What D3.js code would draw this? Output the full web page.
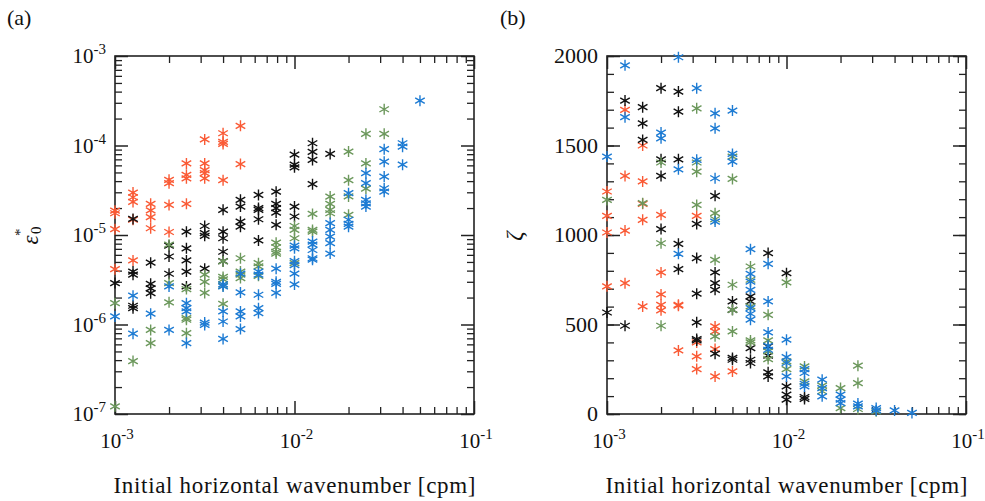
<!DOCTYPE html>
<html>
<head>
<meta charset="utf-8">
<script src="https://cdn.jsdelivr.net/npm/d3@7"></script>
<style>
  body { margin: 0; background: #fff; }
  svg text { font-family: "Liberation Serif", "DejaVu Serif", serif; fill: #111; }
</style>
</head>
<body>
<svg id="chart" width="985" height="501"></svg>
<script>
// Initial horizontal wavenumber [cpm], one column of points per value
const wavenumbers = [0.001, 0.00126, 0.00158, 0.002, 0.0025, 0.00316, 0.004, 0.005, 0.0063,
                     0.0079, 0.01, 0.0126, 0.0158, 0.02, 0.025, 0.0316, 0.04, 0.05];

// panel (a): epsilon_0^* — one sub-array per wavenumber
const epsRed = [
  [1.87e-5, 1.75e-5, 1.16e-5, 4.15e-6],
  [2.98e-5, 2.64e-5, 2.34e-5, 1.48e-5, 5.2e-6],
  [2.23e-5, 1.88e-5, 1.58e-5, 1.19e-5],
  [4.13e-5, 3.79e-5, 2.17e-5, 1.08e-5],
  [6.3e-5, 4.7e-5, 4.3e-5, 2.23e-5],
  [1.17e-4, 6.3e-5, 5.3e-5, 4.9e-5, 4.3e-5],
  [1.37e-4, 1.1e-4, 1.04e-4, 4.1e-5],
  [1.66e-4, 6.2e-5]
];
const epsBlack = [
  [2.9e-6],
  [1.51e-5, 3.9e-6, 3.6e-6, 1.62e-6, 1.52e-6],
  [4.9e-6, 2.85e-6, 2.53e-6, 2.24e-6],
  [7.6e-6, 5.75e-6, 3.69e-6],
  [1.09e-5, 7.1e-6, 5.2e-6, 3.9e-6, 2.66e-6],
  [1.26e-5, 1.05e-5, 9.8e-6, 4.2e-6],
  [1.91e-5, 1.09e-5, 9.2e-6, 6.5e-6, 5.1e-6],
  [2.47e-5, 2.08e-5, 1.41e-5, 1.24e-5],
  [2.8e-5, 2.0e-5, 1.91e-5, 1.5e-5, 8.7e-6],
  [3.05e-5, 2.23e-5, 2.0e-5, 1.78e-5, 1.3e-5],
  [7.9e-5, 6.1e-5, 5.7e-5, 2.08e-5, 1.61e-5],
  [1.06e-4, 8.5e-5, 6.9e-5, 3.7e-5],
  [8.05e-5]
];
const epsGreen = [
  [1.73e-6, 1.22e-7],
  [3.9e-7],
  [8.7e-7, 6.2e-7],
  [7.8e-6, 2.9e-6, 1.77e-6],
  [2.49e-6, 1.18e-6, 1.13e-6, 8.0e-7],
  [3.6e-6, 3.0e-6, 2.25e-6],
  [5.06e-6, 3.4e-6, 3.2e-6, 2.7e-6, 1.7e-6],
  [5.5e-6, 3.9e-6, 3.6e-6, 3.3e-6],
  [4.85e-6, 4.45e-6, 3.5e-6],
  [8.2e-6, 7.3e-6, 6.5e-6, 6.2e-6],
  [1.26e-5, 1.14e-5, 9.2e-6, 4.85e-6],
  [1.72e-5, 1.14e-5, 1.09e-5],
  [2.69e-5, 2.23e-5, 1.91e-5, 1.75e-5],
  [8.55e-5, 4.1e-5, 2.7e-5, 1.68e-5],
  [1.35e-4, 6.3e-5, 3.3e-5],
  [2.54e-4, 1.35e-4]
];
const epsBlue = [
  [1.23e-6],
  [2.1e-6, 7.9e-7],
  [1.32e-6],
  [2.66e-6, 8.7e-7],
  [1.73e-6, 1.52e-6, 1.4e-6, 6.2e-7],
  [1.05e-6, 9.9e-7],
  [2.8e-6, 2.66e-6, 1.4e-6, 1.08e-6, 6.9e-7],
  [3.7e-6, 2.28e-6, 1.4e-6, 1.23e-6, 8.9e-7],
  [3.9e-6, 3.6e-6, 2.15e-6, 1.52e-6, 1.34e-6],
  [4.2e-6, 3.0e-6, 2.85e-6, 2.25e-6],
  [7.6e-6, 7.1e-6, 5.1e-6, 4.6e-6, 3.7e-6, 2.8e-6],
  [8.45e-6, 7.8e-6, 6.8e-6, 5.5e-6, 5.3e-6],
  [1.36e-5, 1.14e-5, 9.6e-6, 8.1e-6, 6.2e-6],
  [2.93e-5, 1.48e-5, 1.33e-5, 1.24e-5],
  [4.9e-5, 3.8e-5, 2.47e-5, 2.26e-5, 2.08e-5],
  [9.1e-5, 6.6e-5, 4.5e-5, 3.33e-5, 3.05e-5],
  [1.06e-4, 9.7e-5, 6.1e-5],
  [3.17e-4]
];

// panel (b): zeta
const zetaRed = [
  [1243, 1107, 1014, 713],
  [1699, 1330, 1025, 731],
  [1500, 1299, 1174, 1085, 601],
  [1113, 791, 668, 610, 579],
  [610, 605, 355],
  [1107, 400, 322, 251],
  [489, 461, 363, 210],
  [238]
];
const zetaBlack = [
  [567],
  [1751, 493],
  [1714, 1624, 1531],
  [1820, 1423, 1330, 1033],
  [1801, 1689, 1423, 951, 809],
  [1062, 871, 672, 512, 419, 411],
  [1219, 791, 731, 694, 337],
  [629, 582, 313, 303],
  [657, 629, 368, 303, 285],
  [899, 378, 326, 233, 210],
  [787, 154, 108, 80],
  [95, 84]
];
const zetaGreen = [
  [1196],
  [],
  [1178],
  [1405, 954, 493],
  [],
  [1708, 1405, 1354, 1168],
  [1122, 1088, 861, 434],
  [1438, 1313, 722, 582, 461],
  [824, 750, 601, 411, 400],
  [554, 411, 350, 307],
  [735, 294, 251],
  [266, 182],
  [158, 127],
  [145, 33],
  [270, 173, 28],
  [15]
];
const zetaBlue = [
  [1438],
  [1948, 1658],
  [],
  [1572, 1540],
  [1993, 1367, 895],
  [1820, 1420],
  [1680, 1596, 1317, 1075],
  [1695, 1453, 1410],
  [921, 783, 740, 694, 592, 560, 527],
  [839, 629, 456, 381, 359],
  [415, 318, 285, 210],
  [251, 229, 169, 154],
  [192, 145, 99],
  [108, 80, 61],
  [58, 43],
  [33, 20],
  [20],
  [6]
];

const colors = { red: "#fa5a35", black: "#111111", green: "#6c985c", blue: "#1d7bd3" };

const svg = d3.select("#chart");
const plotTop = 56, plotBottom = 414;

// flatten [column][values] into points
function toPoints(cols) {
  const pts = [];
  cols.forEach((vals, i) => vals.forEach(v => pts.push({ k: wavenumbers[i], v })));
  return pts;
}

// 6-armed asterisk marker
const starPath = "M0,-5.5V5.5M-4.8,-2.75L4.8,2.75M-4.8,2.75L4.8,-2.75";

function logMinors(lo, hi) {
  const out = [];
  for (let e = lo; e < hi; e++) for (let m = 2; m <= 9; m++) out.push(m * Math.pow(10, e));
  return out;
}

// "10" with a superscript exponent
function powLabel(t, exp) {
  t.append("tspan").text("10").style("font-size", "21px");
  t.append("tspan").text("-" + exp).attr("dy", -9).style("font-size", "15px");
}

function drawPanel(left, right, y, yMajor, yMinor, yLabel, series) {
  const x = d3.scaleLog().domain([1e-3, 1e-1]).range([left, right]);
  const g = svg.append("g");

  const xMajor = [1e-3, 1e-2, 1e-1];
  const xMinor = logMinors(-3, -1);

  // inward ticks on all four sides
  const axes = [
    [d3.axisBottom(x), `translate(0,${plotBottom})`, xMajor, xMinor],
    [d3.axisTop(x), `translate(0,${plotTop})`, xMajor, xMinor],
    [d3.axisLeft(y), `translate(${left},0)`, yMajor, yMinor],
    [d3.axisRight(y), `translate(${right},0)`, yMajor, yMinor]
  ];
  axes.forEach(([ax, tr, maj, min]) => {
    g.append("g").attr("transform", tr)
      .call(ax.tickValues(min).tickSizeInner(-7).tickSizeOuter(0).tickFormat(""))
      .call(s => s.select(".domain").remove())
      .selectAll("line").attr("stroke", "#222").attr("stroke-width", 1.3);
    g.append("g").attr("transform", tr)
      .call(ax.tickValues(maj).tickSizeInner(-13).tickSizeOuter(0).tickFormat(""))
      .call(s => s.select(".domain").remove())
      .selectAll("line").attr("stroke", "#222").attr("stroke-width", 1.5);
  });

  g.append("rect")
    .attr("x", left).attr("y", plotTop)
    .attr("width", right - left).attr("height", plotBottom - plotTop)
    .attr("fill", "none").attr("stroke", "#222").attr("stroke-width", 1.6);

  // x tick labels
  xMajor.forEach(d => {
    const t = g.append("text")
      .attr("x", x(d) + 2).attr("y", 448)
      .attr("text-anchor", "middle");
    powLabel(t, Math.round(-Math.log10(d)));
  });

  // y tick labels
  yLabel(g);

  // x title
  g.append("text")
    .attr("x", (left + right) / 2).attr("y", 493)
    .attr("text-anchor", "middle")
    .attr("textLength", 362).attr("lengthAdjust", "spacing")
    .style("font-size", "23px")
    .text("Initial horizontal wavenumber [cpm]");

  // points
  series.forEach(([cols, color]) => {
    g.append("g").selectAll("path")
      .data(toPoints(cols))
      .join("path")
      .attr("transform", d => `translate(${x(d.k)},${y(d.v)})`)
      .attr("d", starPath)
      .attr("fill", "none")
      .attr("stroke", color)
      .attr("stroke-width", 1.4);
  });
}

// panel (a)
const yEps = d3.scaleLog().domain([1e-7, 1e-3]).range([plotBottom, plotTop]);
drawPanel(115, 474, yEps, [1e-7, 1e-6, 1e-5, 1e-4, 1e-3], logMinors(-7, -3), g => {
  [1e-7, 1e-6, 1e-5, 1e-4, 1e-3].forEach(d => {
    const t = g.append("text")
      .attr("x", 106).attr("y", yEps(d) + 7)
      .attr("text-anchor", "end");
    powLabel(t, Math.round(-Math.log10(d)));
  });
}, [[epsRed, colors.red], [epsBlack, colors.black], [epsGreen, colors.green], [epsBlue, colors.blue]]);

// panel (b)
const yZeta = d3.scaleLinear().domain([0, 2000]).range([plotBottom, plotTop]);
drawPanel(607, 966, yZeta, [0, 500, 1000, 1500, 2000], d3.range(0, 2001, 100), g => {
  [0, 500, 1000, 1500, 2000].forEach(d => {
    g.append("text")
      .attr("x", 598).attr("y", yZeta(d) + 7)
      .attr("text-anchor", "end")
      .style("font-size", "22px")
      .text(d);
  });
}, [[zetaRed, colors.red], [zetaBlack, colors.black], [zetaGreen, colors.green], [zetaBlue, colors.blue]]);

// y titles
const eps = svg.append("g").attr("transform", "translate(38,240) rotate(-90)");
eps.append("text").attr("text-anchor", "middle").style("font-size", "23px").style("font-style", "italic").text("ε");
eps.append("text").attr("x", 4).attr("y", -13).style("font-size", "15px").text("*");
eps.append("text").attr("x", 6).attr("y", 3).style("font-size", "15px").text("0");

svg.append("text")
  .attr("transform", "translate(522,236) rotate(-90)")
  .attr("text-anchor", "middle")
  .style("font-size", "23px").style("font-style", "italic")
  .text("ζ");

// panel letters
svg.append("text").attr("x", 7).attr("y", 25).style("font-size", "22px").text("(a)");
svg.append("text").attr("x", 500).attr("y", 25).style("font-size", "22px").text("(b)");
</script>
</body>
</html>
